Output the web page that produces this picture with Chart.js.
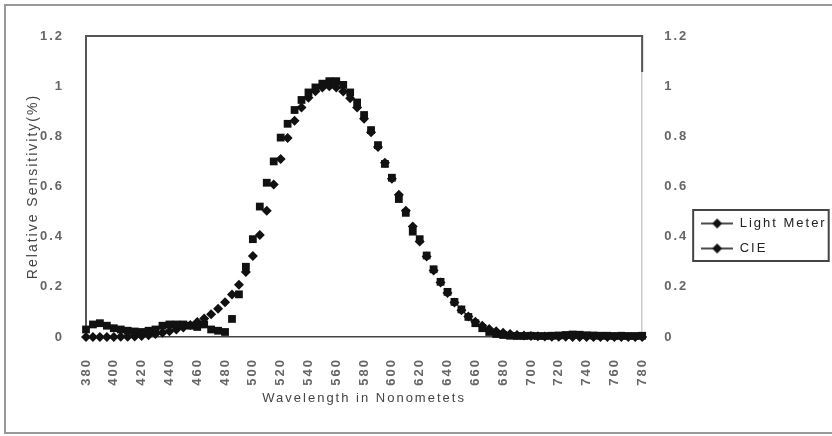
<!DOCTYPE html>
<html>
<head>
<meta charset="utf-8">
<script src="https://cdn.jsdelivr.net/npm/chart.js@4.4.1/dist/chart.umd.min.js"></script>
<style>
  html, body { margin: 0; padding: 0; background: #fff; }
  #wrap { position: relative; width: 832px; height: 436px; }
  #frame { position: absolute; left: 4px; top: 4px; width: 840px; height: 426px;
           border-left: 2px solid #999; border-top: 2px solid #999; border-bottom: 2px solid #999;
           pointer-events: none; }
</style>
</head>
<body>
<div id="wrap">
  <canvas id="chart" width="832" height="436"></canvas>
  <div id="frame"></div>
</div>
<script>
// Données (longueur d'onde en nm, sensibilité relative)
const wavelengths = [
  380, 385, 390, 395, 400, 405, 410, 415, 420, 425, 430, 435, 440, 445, 450, 455, 460, 465, 470, 475,
  480, 485, 490, 495, 500, 505, 510, 515, 520, 525, 530, 535, 540, 545, 550, 555, 560, 565, 570, 575,
  580, 585, 590, 595, 600, 605, 610, 615, 620, 625, 630, 635, 640, 645, 650, 655, 660, 665, 670, 675,
  680, 685, 690, 695, 700, 705, 710, 715, 720, 725, 730, 735, 740, 745, 750, 755, 760, 765, 770, 775, 780
]
const lightMeter = [
  0.03, 0.05, 0.055, 0.045, 0.035, 0.03, 0.025, 0.022, 0.02, 0.025, 0.03, 0.045, 0.05, 0.05, 0.05, 0.045, 0.04, 0.05, 0.03, 0.025,
  0.02, 0.072, 0.17, 0.28, 0.39, 0.52, 0.615, 0.7, 0.795, 0.85, 0.905, 0.945, 0.975, 0.995, 1.01, 1.02, 1.02, 1.005, 0.975, 0.935,
  0.885, 0.825, 0.765, 0.69, 0.635, 0.55, 0.495, 0.42, 0.39, 0.325, 0.27, 0.22, 0.18, 0.14, 0.11, 0.08, 0.055, 0.035, 0.02, 0.012,
  0.008, 0.005, 0.004, 0.004, 0.005, 0.004, 0.004, 0.005, 0.006, 0.008, 0.01, 0.009, 0.007, 0.006, 0.005, 0.005, 0.004, 0.005, 0.004, 0.004, 0.005
]
const cie = [
  0, 0, 0, 0, 0, 0.001, 0.001, 0.002, 0.004, 0.007, 0.012, 0.017, 0.023, 0.03, 0.038, 0.048, 0.06, 0.074, 0.091, 0.113,
  0.139, 0.169, 0.208, 0.259, 0.323, 0.407, 0.503, 0.608, 0.71, 0.793, 0.862, 0.915, 0.954, 0.98, 0.995, 1.0, 0.995, 0.979, 0.952, 0.915,
  0.87, 0.816, 0.757, 0.695, 0.631, 0.567, 0.503, 0.441, 0.381, 0.321, 0.265, 0.217, 0.175, 0.138, 0.107, 0.082, 0.061, 0.045, 0.032, 0.023,
  0.017, 0.012, 0.008, 0.006, 0.004, 0.003, 0.002, 0.001, 0.001, 0.001, 0, 0, 0, 0, 0, 0, 0, 0, 0, 0, 0
]
const yTicks = [0, 0.2, 0.4, 0.6, 0.8, 1, 1.2]

// Petit symbole de légende : trait + losange
function legendSymbol() {
  const c = document.createElement("canvas")
  c.width = 32
  c.height = 12
  const g = c.getContext("2d")
  g.strokeStyle = "#111"
  g.lineWidth = 1.5
  g.beginPath()
  g.moveTo(0, 6)
  g.lineTo(32, 6)
  g.stroke()
  g.fillStyle = "#111"
  g.beginPath()
  g.moveTo(16, 1)
  g.lineTo(21, 6)
  g.lineTo(16, 11)
  g.lineTo(11, 6)
  g.closePath()
  g.fill()
  return c
}
const symbol = legendSymbol()

// Espacement des lettres (le texte du graphique d'origine est étiré)
const spacingPlugin = {
  id: "spacing",
  beforeLayout(chart) { chart.ctx.letterSpacing = "2px" },
  beforeDraw(chart) { chart.ctx.letterSpacing = "2px" },
}

// Cadre de la zone de tracé et de la légende
const framePlugin = {
  id: "frame",
  afterDraw(chart) {
    const { ctx, chartArea: a, legend } = chart
    ctx.save()
    ctx.strokeStyle = "#555"
    ctx.lineWidth = 2
    ctx.beginPath()
    ctx.moveTo(a.left, a.top)
    ctx.lineTo(a.right, a.top)
    ctx.lineTo(a.right, a.top + 36)
    ctx.stroke()

    const boxes = legend.legendHitBoxes
    const l = Math.min(...boxes.map((b) => b.left)) - 8
    const r = Math.max(...boxes.map((b) => b.left + b.width)) + 2
    const t = Math.min(...boxes.map((b) => b.top)) - 7
    const btm = Math.max(...boxes.map((b) => b.top + b.height)) + 6
    ctx.strokeStyle = "#444"
    ctx.lineWidth = 2
    ctx.strokeRect(l, t, r - l, btm - t)
    ctx.restore()
  },
}

const font = "'Liberation Sans', Arial, sans-serif"

const yTickOpts = {
  color: "#666",
  font: { family: font, size: 13, weight: "bold" },
  padding: 14,
  callback: (v) => (yTicks.includes(Math.round(v * 10) / 10) ? String(Math.round(v * 10) / 10) : ""),
  stepSize: 0.2,
}

new Chart(document.getElementById("chart"), {
  type: "scatter",
  data: {
    datasets: [
      {
        label: "Light Meter",
        data: wavelengths.map((w, i) => ({ x: w, y: lightMeter[i] })),
        pointStyle: "rect",
        pointRadius: 5.5,
        backgroundColor: "#111",
        borderColor: "#111",
        borderWidth: 0,
        clip: false,
        yAxisID: "y",
      },
      {
        label: "CIE",
        data: wavelengths.map((w, i) => ({ x: w, y: cie[i] })),
        pointStyle: "rectRot",
        pointRadius: 5,
        backgroundColor: "#111",
        borderColor: "#111",
        borderWidth: 0,
        clip: false,
        yAxisID: "y",
      },
    ],
  },
  options: {
    responsive: false,
    animation: false,
    layout: { padding: { left: 0, top: 36, right: 5, bottom: 0 } },
    plugins: {
      tooltip: { enabled: false },
      legend: {
        position: "right",
        labels: {
          color: "#222",
          font: { family: font, size: 13 },
          padding: 12,
          usePointStyle: true,
          pointStyleWidth: 32,
          generateLabels: (chart) =>
            chart.data.datasets.map((ds, i) => ({
              text: ds.label,
              pointStyle: symbol,
              fillStyle: "#111",
              strokeStyle: "#111",
              lineWidth: 0,
              hidden: false,
              datasetIndex: i,
              fontColor: "#222",
            })),
        },
      },
    },
    scales: {
      x: {
        type: "linear",
        min: 380,
        max: 780,
        grid: { display: false },
        border: { display: true, color: "#444", width: 1.5, dash: [1.5, 2] },
        ticks: {
          stepSize: 20,
          minRotation: 90,
          maxRotation: 90,
          autoSkip: false,
          padding: 13,
          color: "#666",
          font: { family: font, size: 13, weight: "bold" },
        },
        title: {
          display: true,
          text: "Wavelength in Nonometets",
          color: "#444",
          font: { family: font, size: 13 },
          padding: { top: 4, bottom: 30 },
        },
        afterFit: (s) => { s.height = 99 },
      },
      y: {
        position: "left",
        min: 0,
        max: 1.2,
        grid: { display: false },
        border: { display: true, color: "#555", width: 2 },
        ticks: yTickOpts,
        title: {
          display: true,
          text: "Relative Sensitivity(%)",
          color: "#444",
          font: { family: font, size: 14 },
          padding: { top: 25, bottom: 0 },
        },
        afterFit: (s) => { s.width = 86 },
      },
      y2: {
        position: "right",
        min: 0,
        max: 1.2,
        grid: { display: false },
        border: { display: true, color: "#ccc", width: 1.5 },
        ticks: yTickOpts,
        afterFit: (s) => { s.width = 47 },
      },
    },
  },
  plugins: [spacingPlugin, framePlugin],
})
</script>
</body>
</html>
